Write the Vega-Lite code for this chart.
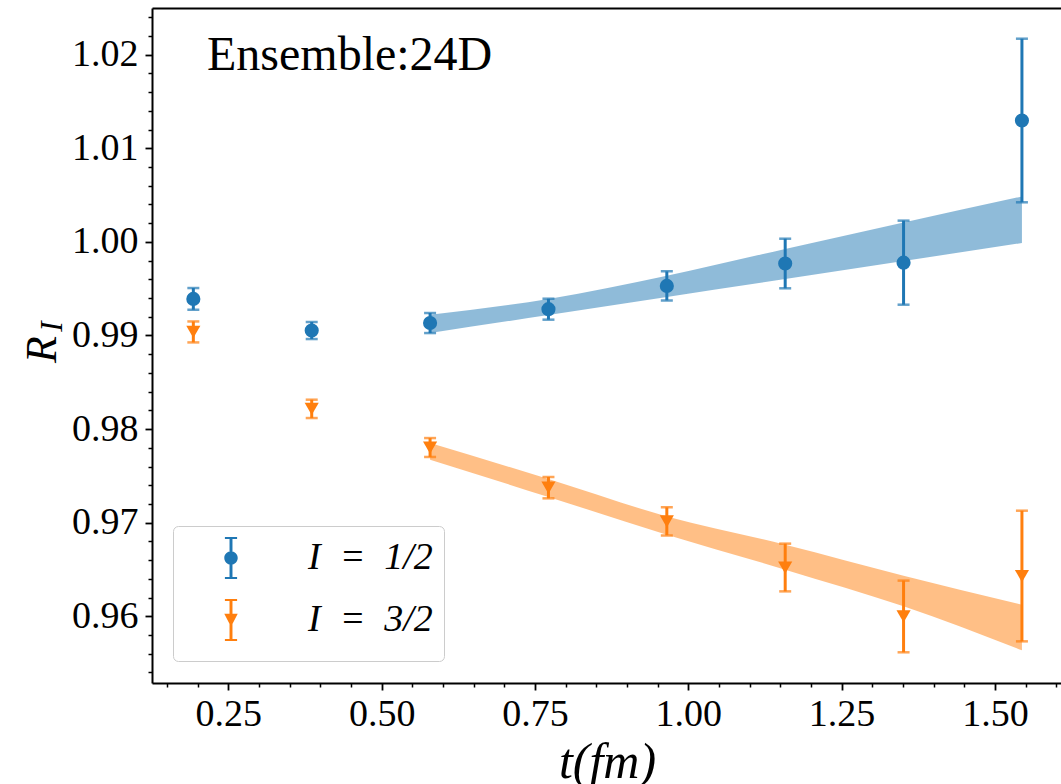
{
  "$schema": "https://vega.github.io/schema/vega-lite/v6.json",
  "width": 909,
  "height": 675,
  "autosize": {"type": "none"},
  "padding": {"left": 152, "top": 8, "right": 0, "bottom": 101},
  "background": "white",
  "title": {"text": "Ensemble:24D", "orient": "top", "anchor": "start", "frame": "group", "offset": 0, "dx": 55, "dy": 110, "baseline": "alphabetic", "font": "Liberation Serif", "fontSize": 48, "fontWeight": "normal", "color": "black"},
  "config": {
    "view": {"stroke": null},
    "legend": {"padding": 11, "fillColor": "white", "strokeColor": "#cccccc", "cornerRadius": 5, "symbolSize": 1764, "symbolStrokeWidth": 0, "symbolOpacity": 1, "symbolOffset": 26, "labelOffset": 56, "rowPadding": 20, "labelFont": "Liberation Serif", "labelFontStyle": "italic", "labelFontSize": 38, "labelColor": "black", "labelLimit": 400, "titleOrient": "bottom", "titleFontSize": 2, "titlePadding": 7}
  },
  "datasets": {
    "pts": [
      {"series": "I = 1/2", "t": 0.193, "R": 0.99391, "err": 0.00116},
      {"series": "I = 1/2", "t": 0.386, "R": 0.99053, "err": 0.00091},
      {"series": "I = 1/2", "t": 0.579, "R": 0.99133, "err": 0.00107},
      {"series": "I = 1/2", "t": 0.772, "R": 0.99281, "err": 0.00112},
      {"series": "I = 1/2", "t": 0.965, "R": 0.99530, "err": 0.00155},
      {"series": "I = 1/2", "t": 1.158, "R": 0.99769, "err": 0.00265},
      {"series": "I = 1/2", "t": 1.351, "R": 0.99778, "err": 0.00449},
      {"series": "I = 1/2", "t": 1.544, "R": 1.01297, "err": 0.00874},
      {"series": "I = 3/2", "t": 0.193, "R": 0.99038, "err": 0.00112},
      {"series": "I = 3/2", "t": 0.386, "R": 0.98216, "err": 0.00098},
      {"series": "I = 3/2", "t": 0.579, "R": 0.97803, "err": 0.00101},
      {"series": "I = 3/2", "t": 0.772, "R": 0.97374, "err": 0.00114},
      {"series": "I = 3/2", "t": 0.965, "R": 0.97014, "err": 0.00150},
      {"series": "I = 3/2", "t": 1.158, "R": 0.96521, "err": 0.00255},
      {"series": "I = 3/2", "t": 1.351, "R": 0.95998, "err": 0.00383},
      {"series": "I = 3/2", "t": 1.544, "R": 0.96430, "err": 0.00698}
    ],
    "band": [
      {"series": "I = 1/2", "t": 0.579, "lo": 0.99027, "hi": 0.99222},
      {"series": "I = 1/2", "t": 0.772, "lo": 0.99219, "hi": 0.99390},
      {"series": "I = 1/2", "t": 0.965, "lo": 0.99412, "hi": 0.99639},
      {"series": "I = 1/2", "t": 1.158, "lo": 0.99604, "hi": 0.99925},
      {"series": "I = 1/2", "t": 1.351, "lo": 0.99796, "hi": 1.00208},
      {"series": "I = 1/2", "t": 1.544, "lo": 0.99988, "hi": 1.00486},
      {"series": "I = 3/2", "t": 0.579, "lo": 0.97673, "hi": 0.97852},
      {"series": "I = 3/2", "t": 0.772, "lo": 0.97275, "hi": 0.97467},
      {"series": "I = 3/2", "t": 0.965, "lo": 0.96872, "hi": 0.97067},
      {"series": "I = 3/2", "t": 1.158, "lo": 0.96498, "hi": 0.96765},
      {"series": "I = 3/2", "t": 1.351, "lo": 0.96106, "hi": 0.96434},
      {"series": "I = 3/2", "t": 1.544, "lo": 0.95636, "hi": 0.96124}
    ]
  },
  "resolve": {"scale": {"color": "independent", "shape": "independent"}, "axis": {"x": "independent", "y": "independent"}},
  "layer": [
    {
      "data": {"name": "band"},
      "mark": {"type": "area", "opacity": 0.5, "interpolate": "monotone"},
      "encoding": {
        "x": {"field": "t", "type": "quantitative", "scale": {"domain": [0.1256, 1.6077], "nice": false, "zero": false},
          "axis": {"orient": "bottom", "values": [0.25, 0.5, 0.75, 1, 1.25, 1.5], "format": ".2f", "title": "t(fm)", "titleFont": "Liberation Serif", "titleFontStyle": "italic", "titleFontWeight": "normal", "titleFontSize": 50, "titleColor": "black", "titleBaseline": "alphabetic", "titleAlign": "center", "titleX": 455, "titleY": 94, "labelFont": "Liberation Serif", "labelFontSize": 38, "labelColor": "black", "labelPadding": 5, "labelFlush": false, "labelOverlap": false, "tickSize": 7, "tickWidth": 1.8, "tickColor": "black", "domainColor": "black", "domainWidth": 2, "grid": false}},
        "y": {"field": "lo", "type": "quantitative", "scale": {"domain": [0.95287, 1.02499], "nice": false, "zero": false},
          "axis": {"orient": "left", "values": [0.96, 0.97, 0.98, 0.99, 1.0, 1.01, 1.02], "format": ".2f", "title": "R", "titleFont": "Liberation Serif", "titleFontStyle": "italic", "titleFontWeight": "normal", "titleFontSize": 44, "titleColor": "black", "titleAngle": 270, "titleAlign": "center", "titleBaseline": "alphabetic", "titleX": -97, "titleY": 341, "labelFont": "Liberation Serif", "labelFontSize": 38, "labelColor": "black", "labelPadding": 7, "labelOverlap": false, "tickSize": 7, "tickWidth": 1.8, "tickColor": "black", "domainColor": "black", "domainWidth": 2, "grid": false}},
        "y2": {"field": "hi"},
        "color": {"field": "series", "type": "nominal", "scale": {"domain": ["I = 1/2", "I = 3/2"], "range": ["#1f77b4", "#ff7f0e"]}, "legend": null}
      }
    },
    {
      "data": {"name": "pts"},
      "mark": {"type": "errorbar", "ticks": {"size": 12, "thickness": 2.5}, "rule": {"strokeWidth": 3}},
      "encoding": {
        "x": {"field": "t", "type": "quantitative", "axis": null},
        "y": {"field": "R", "type": "quantitative", "axis": null},
        "yError": {"field": "err"},
        "color": {"field": "series", "type": "nominal", "scale": {"domain": ["I = 1/2", "I = 3/2"], "range": ["#1f77b4", "#ff7f0e"]}, "legend": null}
      }
    },
    {
      "data": {"name": "pts"},
      "mark": {"type": "point", "filled": true, "opacity": 1, "size": 200},
      "encoding": {
        "x": {"field": "t", "type": "quantitative",
          "axis": {"orient": "bottom", "values": [0.15, 0.2, 0.3, 0.35, 0.4, 0.45, 0.55, 0.6, 0.65, 0.7, 0.8, 0.85, 0.9, 0.95, 1.05, 1.1, 1.15, 1.2, 1.3, 1.35, 1.4, 1.45, 1.55, 1.6], "labels": false, "domain": false, "grid": false, "title": null, "tickSize": 4, "tickWidth": 1.5, "tickColor": "black"}},
        "y": {"field": "R", "type": "quantitative",
          "axis": {"orient": "left", "values": [0.954, 0.956, 0.958, 0.962, 0.964, 0.966, 0.968, 0.972, 0.974, 0.976, 0.978, 0.982, 0.984, 0.986, 0.988, 0.992, 0.994, 0.996, 0.998, 1.002, 1.004, 1.006, 1.008, 1.012, 1.014, 1.016, 1.018, 1.022, 1.024], "labels": false, "domain": false, "grid": false, "tickSize": 4, "tickWidth": 1.5, "tickColor": "black", "title": "I", "titleFont": "Liberation Serif", "titleFontStyle": "italic", "titleFontWeight": "normal", "titleFontSize": 31, "titleColor": "black", "titleAngle": 270, "titleAlign": "center", "titleBaseline": "alphabetic", "titleX": -91, "titleY": 318}},
        "color": {"field": "series", "type": "nominal", "scale": {"domain": ["I = 1/2", "I = 3/2"], "range": ["#1f77b4", "#ff7f0e"]}, "legend": null},
        "shape": {"field": "series", "type": "nominal", "scale": {"domain": ["I = 1/2", "I = 3/2"], "range": ["circle", "triangle-down"]}, "legend": null}
      }
    },
    {
      "data": {"name": "pts"},
      "mark": {"type": "point", "filled": true, "opacity": 0},
      "encoding": {
        "x": {"field": "t", "type": "quantitative",
          "axis": {"orient": "top", "labels": false, "ticks": false, "domain": true, "domainColor": "black", "domainWidth": 2, "grid": false, "title": null}},
        "y": {"field": "R", "type": "quantitative", "axis": null},
        "color": {"field": "series", "type": "nominal", "scale": {"domain": ["I = 1/2", "I = 3/2"], "range": ["#1f77b4", "#ff7f0e"]}, "legend": {"title": " ", "orient": "none", "legendX": 21, "legendY": 518, "labelExpr": "replace(replace(datum.label, ' ', '\u2002'), ' ', '\u2002')"}},
        "shape": {"field": "series", "type": "nominal", "scale": {"domain": ["I = 1/2", "I = 3/2"], "range": ["M-0.29,-1L0.29,-1L0.29,-0.9L0.07,-0.9L0.07,0.9L0.29,0.9L0.29,1L-0.29,1L-0.29,0.9L-0.07,0.9L-0.07,-0.9L-0.29,-0.9ZM0.32,0A0.32,0.32,0,1,1,-0.32,0A0.32,0.32,0,1,1,0.32,0Z", "M-0.29,-1L0.29,-1L0.29,-0.9L0.07,-0.9L0.07,0.9L0.29,0.9L0.29,1L-0.29,1L-0.29,0.9L-0.07,0.9L-0.07,-0.9L-0.29,-0.9ZM-0.32,-0.3L0.32,-0.3L0,0.32Z"]}, "legend": {"title": " ", "orient": "none", "legendX": 21, "legendY": 518, "labelExpr": "replace(replace(datum.label, ' ', '\u2002'), ' ', '\u2002')"}}
      }
    }
  ]
}
